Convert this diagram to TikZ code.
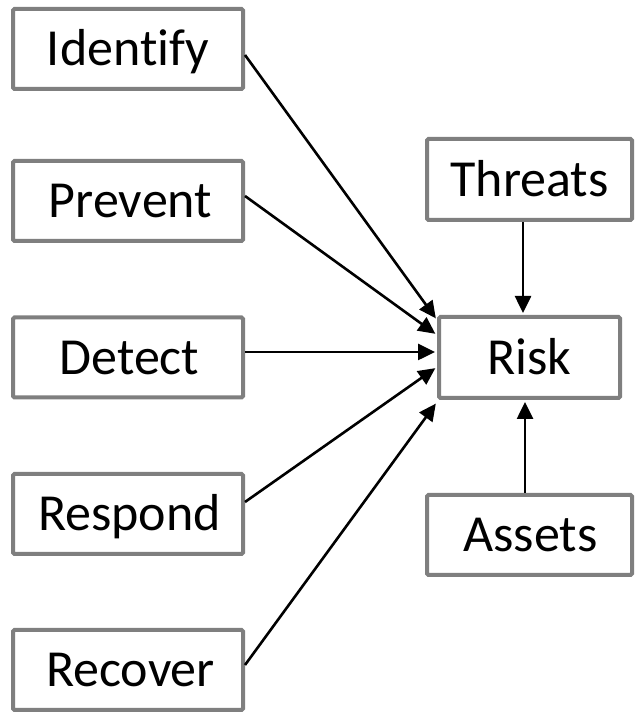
\documentclass[tikz,border=0pt]{standalone}
\usepackage{fontspec}
\setmainfont{Carlito}[Ligatures={NoCommon}]
\usetikzlibrary{arrows.meta}
\definecolor{boxgray}{HTML}{7F7F7F}
\begin{document}
\begin{tikzpicture}[x=1pt,y=1pt,
  box/.style={draw=boxgray, line width=4pt, rounded corners=1.5pt, fill=white,
    inner sep=0pt, text height=33.5pt, text depth=0pt,
    font=\fontsize{52}{60}\selectfont},
  leftbox/.style={box, minimum width=230pt, minimum height=80pt},
  link/.style={line width=2.6pt, -{Triangle[length=17pt,width=16pt]}, shorten >=2pt}]
\useasboundingbox (0,0) rectangle (641,714);

% control functions on the left
\node[leftbox] (identify) at (128,665) {Identify};
\node[leftbox] (prevent)  at (128,513) {\hspace{5pt}Prevent};
\node[leftbox] (detect)   at (128,356.5) {\hspace{3pt}Detect};
\node[leftbox] (respond)  at (128,200) {\hspace{3pt}Respond};
\node[leftbox] (recover)  at (128,44) {\hspace{5pt}Recover};

% risk and its two drivers
\node[box, minimum width=205pt, minimum height=81pt] (threats) at (529.5,534.5) {Threats};
\node[box, minimum width=181pt, minimum height=81pt] (risk)    at (529.5,356.5) {Risk};
\node[box, minimum width=205pt, minimum height=80pt] (assets)  at (529.5,179) {\hspace{2pt}Assets};

% arrows into the risk box
\draw[link] ([yshift=-6pt]identify.east) -- ([yshift=37.5pt]risk.west);
\draw[link] ([yshift=5pt]prevent.east)   -- ([yshift=22.5pt]risk.west);
\draw[link] ([yshift=5.5pt]detect.east)  -- ([yshift=5.5pt]risk.west);
\draw[link] ([yshift=12pt]respond.east)  -- ([yshift=-9.5pt]risk.west);
\draw[link] ([yshift=5pt]recover.east)   -- ([yshift=-44.5pt]risk.west);
\draw[link] ([xshift=-6.5pt]threats.south) -- ([xshift=-6.5pt]risk.north);
\draw[link] ([xshift=-4.5pt]assets.north)  -- ([xshift=-4.5pt]risk.south);
\end{tikzpicture}
\end{document}
